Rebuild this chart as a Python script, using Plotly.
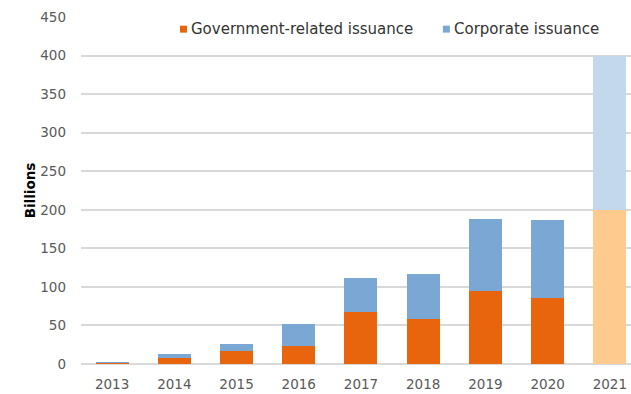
import plotly.graph_objects as go

# Annual issuance, billions (2021 is the full-year estimate)
years = ["2013", "2014", "2015", "2016", "2017", "2018", "2019", "2020", "2021"]
government = [2, 8, 17.5, 23, 67, 58.5, 95, 85, 200]
corporate = [0.5, 5.5, 8.5, 29.5, 44.5, 58.5, 93.5, 102, 200]

series_names = ["Government-related issuance", "Corporate issuance"]
gov_colors = ["#E8650E"] * 8 + ["#FFCA8E"]
corp_colors = ["#7BA7D5"] * 8 + ["#C4D8ED"]

fig = go.Figure()
fig.add_trace(go.Bar(
    x=years, y=government, name=series_names[0],
    marker=dict(color=gov_colors, line=dict(width=0)), width=0.53,
    showlegend=False,
))
fig.add_trace(go.Bar(
    x=years, y=corporate, name=series_names[1],
    marker=dict(color=corp_colors, line=dict(width=0)), width=0.53,
    showlegend=False,
))

# Compact legend: small square key followed closely by the label
legend_items = [
    (series_names[0], "#E8650E", 0.180),
    (series_names[1], "#7BA7D5", 0.658),
]
for name, col, x0 in legend_items:
    fig.add_shape(
        type="rect", xref="paper", yref="paper",
        x0=x0, x1=x0 + 0.0127, y0=0.955, y1=0.975,
        fillcolor=col, line=dict(width=0),
    )
    fig.add_annotation(
        text=name, xref="paper", yref="paper",
        x=x0 + 0.0165, y=0.966, xanchor="left", yanchor="middle",
        showarrow=False, font=dict(size=15, color="#333333"),
    )

fig.update_layout(
    width=631, height=394,
    barmode="stack",
    showlegend=False,
    paper_bgcolor="white", plot_bgcolor="white",
    margin=dict(l=81, r=0, t=17, b=30),
    font=dict(family="DejaVu Sans", size=13, color="#595959"),
    xaxis=dict(
        type="category", range=[-0.5, 8.34], showgrid=False,
        ticks="", ticklabelstandoff=10,
        tickfont=dict(size=13.5, color="#595959"),
        showline=False,
    ),
    yaxis=dict(
        range=[0, 450], dtick=50, showgrid=True, gridcolor="#D9D9D9",
        gridwidth=1.5, zeroline=True, zerolinecolor="#D9D9D9", zerolinewidth=1.5,
        ticks="", ticklabelstandoff=14,
        tickfont=dict(size=13.5, color="#595959"),
        title=dict(text="<b>Billions</b>", font=dict(size=13.5, color="#000000"),
                   standoff=1),
    ),
)

fig.write_html("out.html")
